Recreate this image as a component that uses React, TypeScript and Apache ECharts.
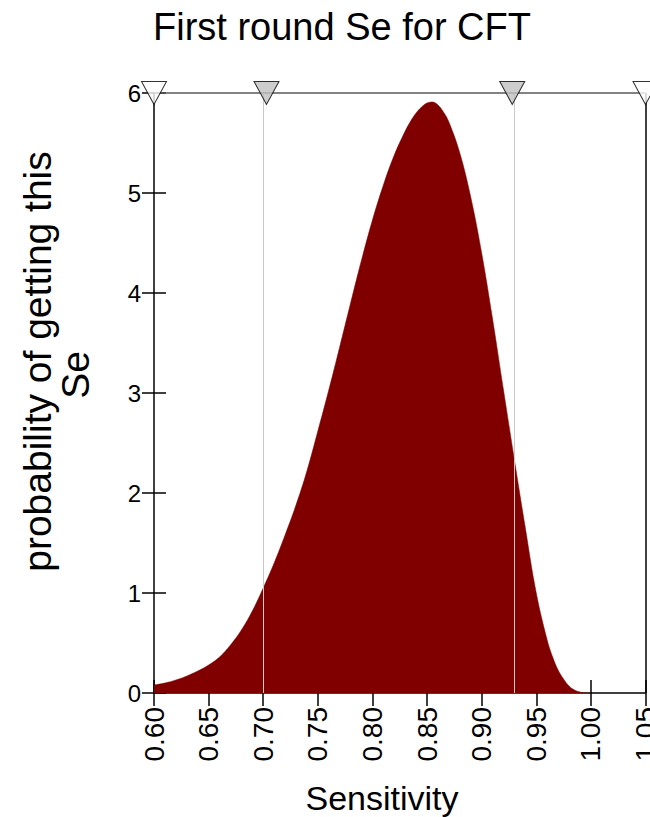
import React, { useEffect, useRef } from "react";
import * as echarts from "echarts";

const titleText = "First round Se for CFT";
const xName = "Sensitivity";
const yNameLines = ["probability of getting this", "Se"];

const sensitivity = [
  0.60, 0.61, 0.62, 0.63, 0.64, 0.65, 0.66, 0.67, 0.68, 0.69,
  0.70, 0.71, 0.72, 0.73, 0.74, 0.75, 0.76, 0.77, 0.78, 0.79,
  0.80, 0.81, 0.82, 0.83, 0.835, 0.84, 0.845, 0.85, 0.855, 0.86,
  0.865, 0.87, 0.88, 0.89, 0.90, 0.91, 0.92, 0.93, 0.94, 0.95,
  0.96, 0.965, 0.97, 0.975, 0.98, 0.985, 0.99, 0.995, 1.00,
];
const density = [
  0.08, 0.10, 0.13, 0.17, 0.22, 0.28, 0.36, 0.48, 0.63, 0.82,
  1.05, 1.30, 1.58, 1.88, 2.22, 2.62, 3.03, 3.46, 3.90, 4.33,
  4.73, 5.08, 5.38, 5.62, 5.72, 5.80, 5.86, 5.90, 5.91, 5.88,
  5.81, 5.71, 5.40, 4.96, 4.40, 3.74, 3.03, 2.33, 1.65, 1.00,
  0.53, 0.36, 0.23, 0.14, 0.07, 0.03, 0.01, 0.00, 0.00,
];
// credible interval bounds (grey markers) and plotted range bounds (white markers)
const intervalBounds = [0.703, 0.928];
const rangeBounds = [0.6, 1.05];

const xMin = 0.6;
const xMax = 1.05;
const xStep = 0.05;
const yMin = 0;
const yMax = 6;
const yStep = 1;

const FONT = "'Liberation Sans', Arial, Helvetica, sans-serif";

export default function App() {
  const ref = useRef<HTMLDivElement>(null);

  useEffect(() => {
    if (!ref.current) return;
    const chart = echarts.init(ref.current, undefined, { renderer: "svg" });

    const curve = sensitivity.map((s, i) => [s, density[i]]);
    const markers = [
      ...rangeBounds.map((v) => ({
        value: [v, yMax],
        itemStyle: { color: "#ffffff", borderColor: "#000000", borderWidth: 1 },
      })),
      ...intervalBounds.map((v) => ({
        value: [v, yMax],
        itemStyle: { color: "#c0c0c0", borderColor: "#000000", borderWidth: 1 },
      })),
    ];

    chart.setOption({
      animation: false,
      backgroundColor: "#ffffff",
      title: {
        text: titleText,
        left: 153,
        top: 8,
        padding: 0,
        textStyle: {
          fontFamily: FONT,
          fontSize: 38,
          fontWeight: "normal",
          color: "#000000",
        },
      },
      grid: {
        left: 154,
        right: 4.5,
        top: 93,
        bottom: 124,
        containLabel: false,
        outerBoundsMode: "none",
      },
      xAxis: [
        {
          type: "value",
          position: "bottom",
          min: xMin,
          max: xMax,
          interval: xStep,
          splitLine: { show: false },
          axisLine: { show: true, onZero: false, lineStyle: { color: "#000", width: 1.5 } },
          axisTick: { show: true, inside: false, length: 13, lineStyle: { color: "#000", width: 1.5 } },
          axisLabel: {
            rotate: 90,
            margin: 14,
            fontFamily: FONT,
            fontSize: 28,
            color: "#000",
            hideOverlap: false,
            showMaxLabel: true,
            showMinLabel: true,
            formatter: (v: number) => v.toFixed(2),
          },
        },
        {
          type: "value",
          position: "bottom",
          min: xMin,
          max: xMax,
          interval: xStep,
          splitLine: { show: false },
          axisLine: { show: false, onZero: false },
          axisTick: { show: true, inside: true, length: 13, lineStyle: { color: "#000", width: 1.5 } },
          axisLabel: { show: false },
        },
      ],
      yAxis: [
        {
          type: "value",
          position: "left",
          min: yMin,
          max: yMax,
          interval: yStep,
          splitLine: { show: false },
          axisLine: { show: true, onZero: false, lineStyle: { color: "#000", width: 1.5 } },
          axisTick: { show: true, inside: false, length: 12, lineStyle: { color: "#000", width: 1.5 } },
          axisLabel: {
            margin: 13,
            fontFamily: FONT,
            fontSize: 24,
            color: "#000",
          },
        },
        {
          type: "value",
          position: "left",
          min: yMin,
          max: yMax,
          interval: yStep,
          splitLine: { show: false },
          axisLine: { show: false, onZero: false },
          axisTick: { show: true, inside: true, length: 12, lineStyle: { color: "#000", width: 1.5 } },
          axisLabel: { show: false },
        },
      ],
      graphic: [
        {
          type: "text",
          x: 37,
          y: 361.5,
          rotation: Math.PI / 2,
          style: {
            text: yNameLines[0],
            font: `39px ${FONT}`,
            fill: "#000",
            textAlign: "center",
            textVerticalAlign: "middle",
          },
        },
        {
          type: "text",
          x: 75,
          y: 375,
          rotation: Math.PI / 2,
          style: {
            text: yNameLines[1],
            font: `39px ${FONT}`,
            fill: "#000",
            textAlign: "center",
            textVerticalAlign: "middle",
          },
        },
        {
          type: "text",
          x: 382,
          y: 798,
          style: {
            text: xName,
            font: `34px ${FONT}`,
            fill: "#000",
            textAlign: "center",
            textVerticalAlign: "middle",
          },
        },
      ],
      series: [
        {
          type: "line",
          data: curve,
          xAxisIndex: 0,
          yAxisIndex: 0,
          smooth: 0.4,
          showSymbol: false,
          symbol: "none",
          lineStyle: { width: 0.5, color: "#800000" },
          areaStyle: { color: "#800000", opacity: 1 },
          z: 2,
          markLine: {
            silent: true,
            symbol: ["none", "none"],
            label: { show: false },
            animation: false,
            data: [
              { xAxis: intervalBounds[0], lineStyle: { color: "#c8c8c8", width: 1, type: "solid" } },
              { xAxis: intervalBounds[1], lineStyle: { color: "#c8c8c8", width: 1, type: "solid" } },
              { xAxis: rangeBounds[1], lineStyle: { color: "#000000", width: 1.5, type: "solid" } },
              { yAxis: yMax, lineStyle: { color: "#5a5a5a", width: 1.5, type: "solid" } },
            ],
          },
        },
        {
          type: "scatter",
          data: markers,
          xAxisIndex: 0,
          yAxisIndex: 0,
          symbol: "triangle",
          symbolRotate: 180,
          symbolSize: [25, 23],
          clip: false,
          silent: true,
          z: 5,
        },
      ],
    });

    return () => chart.dispose();
  }, []);

  return (
    <div
      ref={ref}
      style={{ position: "absolute", left: 0, top: 0, width: 650, height: 817, background: "#fff" }}
    />
  );
}
